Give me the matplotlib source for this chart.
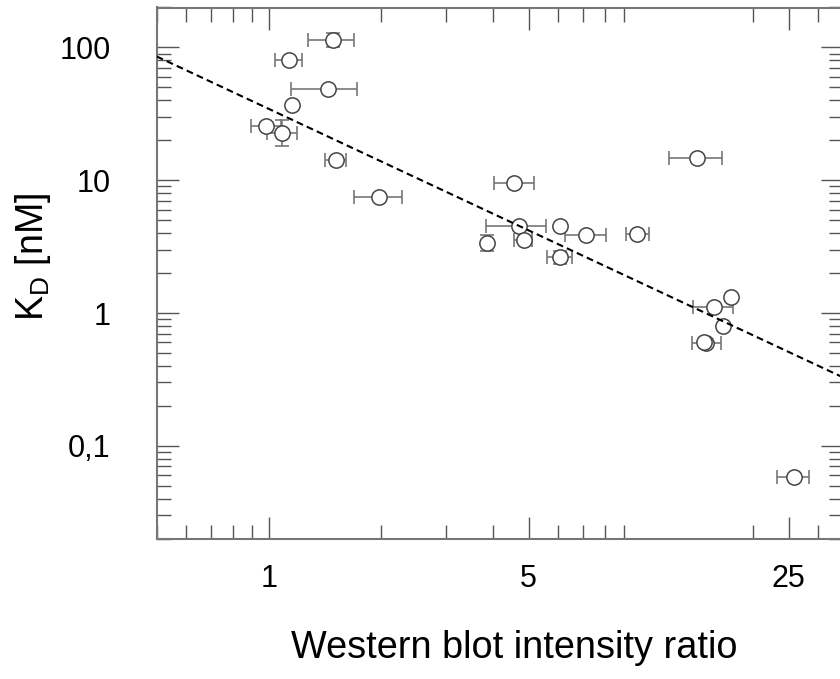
import matplotlib
matplotlib.use('Agg')
import matplotlib.pyplot as plt
import numpy as np
from matplotlib.ticker import FixedLocator, FixedFormatter, NullFormatter

plt.rcParams['font.family'] = ['Liberation Sans', 'DejaVu Sans']
plt.rcParams['mathtext.default'] = 'regular'

# ---- data ----
ratio    = [1.49, 1.133, 1.445, 1.157, 0.985, 1.087, 1.516, 1.978, 4.577, 4.706, 3.872, 4.853,
            6.083, 7.145, 9.77, 6.053, 14.16, 15.73, 17.51, 16.67, 15.0, 14.8, 25.8]
ratio_lo = [1.277, 1.039, 1.145, 1.157, 0.894, 0.989, 1.416, 1.694, 4.03, 3.844, 3.872, 4.56,
            6.083, 6.256, 9.126, 5.595, 11.91, 13.81, 17.51, 16.67, 13.7, 14.8, 23.28]
ratio_hi = [1.691, 1.226, 1.726, 1.157, 1.076, 1.193, 1.615, 2.277, 5.16, 5.57, 3.872, 5.10,
            6.083, 8.06, 10.52, 6.53, 16.56, 17.69, 17.51, 16.67, 16.46, 14.8, 28.3]
kd       = [114.3, 80.8, 48.9, 36.6, 25.4, 22.7, 14.1, 7.42, 9.58, 4.49, 3.38, 3.53,
            4.49, 3.84, 3.92, 2.62, 14.7, 1.11, 1.32, 0.793, 0.594, 0.61, 0.0578]
kd_lo    = [101.0, 80.8, 48.9, 36.6, 25.4, 18.2, 14.1, 7.42, 9.58, 4.49, 2.94, 3.53,
            4.49, 3.84, 3.92, 2.35, 14.7, 1.11, 1.32, 0.793, 0.594, 0.61, 0.0578]
kd_hi    = [129.0, 80.8, 48.9, 36.6, 25.4, 28.5, 14.1, 7.42, 9.58, 4.49, 3.88, 3.53,
            4.49, 3.84, 3.92, 2.92, 14.7, 1.11, 1.32, 0.793, 0.594, 0.61, 0.0578]

# power-law fit  K_D = fit_kd_at_1 * ratio ** fit_slope
fit_kd_at_1 = 34.5
fit_slope = -1.31

x_major = [1, 5, 25]
x_major_labels = ['1', '5', '25']
x_minor = [0.5, 0.6, 0.7, 0.8, 0.9, 2, 3, 4, 6, 7, 8, 9, 20, 30]
y_major = [0.1, 1, 10, 100]
y_major_labels = ['0,1', '1', '10', '100']
y_minor = [m * d for d in (0.01, 0.1, 1, 10, 100) for m in range(2, 10)]

XLIM = (0.5, 35)
YLIM = (0.02, 200)

# ---- figure ----
fig = plt.figure(figsize=(8.4, 6.79), dpi=100)
ax = fig.add_axes([156.7 / 840, (679 - 538.6) / 679, 686.4 / 840, (538.6 - 7.5) / 679])
ax.set_xscale('log')
ax.set_yscale('log')
ax.set_xlim(*XLIM)
ax.set_ylim(*YLIM)

err_color = '#777777'
for x, xl, xh, y, yl, yh in zip(ratio, ratio_lo, ratio_hi, kd, kd_lo, kd_hi):
    xerr = [[x - xl], [xh - x]] if xh > xl else None
    yerr = [[y - yl], [yh - y]] if yh > yl else None
    if xerr is not None or yerr is not None:
        ax.errorbar([x], [y], xerr=xerr, yerr=yerr, fmt='none', ecolor=err_color,
                    elinewidth=1.2, capsize=5, capthick=1.2, zorder=2)

ax.plot(ratio, kd, 'o', markersize=11, markerfacecolor='white',
        markeredgecolor='#444444', markeredgewidth=1.1, linestyle='none', zorder=3)

xf = np.array(XLIM)
ax.plot(xf, fit_kd_at_1 * xf ** fit_slope, color='black', linewidth=1.5,
        linestyle=(0, (3.3, 2.0)), zorder=4)

# ticks
ax.xaxis.set_major_locator(FixedLocator(x_major))
ax.xaxis.set_major_formatter(FixedFormatter(x_major_labels))
ax.xaxis.set_minor_locator(FixedLocator(x_minor))
ax.xaxis.set_minor_formatter(NullFormatter())
ax.yaxis.set_major_locator(FixedLocator(y_major))
ax.yaxis.set_major_formatter(FixedFormatter(y_major_labels))
ax.yaxis.set_minor_locator(FixedLocator(y_minor))
ax.yaxis.set_minor_formatter(NullFormatter())

ax.tick_params(which='both', direction='in', top=True, right=True,
               color='#555555', width=1.0, labelsize=22, labelcolor='black')
ax.tick_params(which='major', length=15.8)
ax.tick_params(which='minor', length=10)
ax.tick_params(axis='x', which='major', pad=18)
ax.tick_params(axis='y', which='major', pad=33)

for sp in ax.spines.values():
    sp.set_color('#777777')
    sp.set_linewidth(1.5)

ax.set_xlabel('Western blot intensity ratio', fontsize=27.3, labelpad=26)
ax.xaxis.label.set_x(0.521)
ax.set_ylabel('K$_{D}$ [nM]', fontsize=27, labelpad=5)
ax.yaxis.label.set_y(0.53)

fig.savefig('out.png', dpi=100)
